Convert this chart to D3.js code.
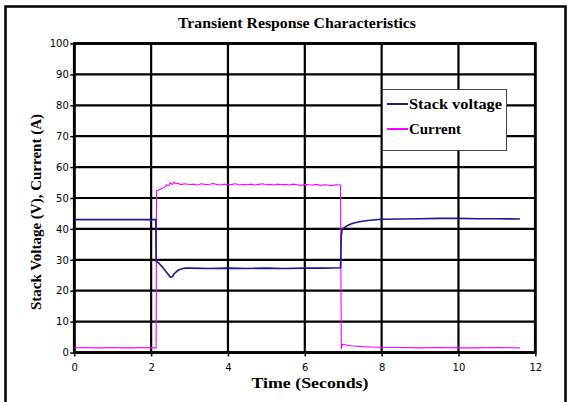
<!DOCTYPE html>
<html>
<head>
<meta charset="utf-8">
<script src="https://cdn.jsdelivr.net/npm/d3@7"></script>
<style>
html,body{margin:0;padding:0;background:#fff;}
svg{display:block;}
</style>
</head>
<body>
<svg id="chart" width="571" height="402"></svg>
<script>
// ---- data ----
const chartTitle = "Transient Response Characteristics";
const xTitle = "Time (Seconds)";
const yTitle = "Stack Voltage (V), Current (A)";
const xTicks = [0, 2, 4, 6, 8, 10, 12];
const yTicks = [0, 10, 20, 30, 40, 50, 60, 70, 80, 90, 100];
const seriesNames = ["Stack voltage", "Current"];

const voltageTime = [0, 2.12, 2.13, 2.2, 2.3, 2.4, 2.5, 2.55, 2.6, 2.7, 2.8, 2.9, 3.0, 3.5, 4.0, 4.5, 5.0, 5.5, 6.0, 6.5, 6.93, 6.95, 6.97, 7.0, 7.1, 7.2, 7.3, 7.5, 7.7, 8.0, 8.5, 9.0, 9.5, 10.0, 10.5, 11.0, 11.6];
const voltageValue = [43.0, 43.0, 29.6, 28.9, 27.6, 26.0, 24.4, 24.5, 25.5, 26.6, 27.1, 27.3, 27.3, 27.2, 27.3, 27.2, 27.3, 27.2, 27.3, 27.3, 27.4, 38.0, 39.6, 40.2, 41.0, 41.6, 42.0, 42.5, 42.8, 43.1, 43.2, 43.3, 43.4, 43.4, 43.3, 43.3, 43.2];

const currentTime = [0, 0.25, 0.5, 0.75, 1.0, 1.25, 1.5, 1.75, 2.0, 2.13, 2.14, 2.2, 2.25, 2.3, 2.35, 2.4, 2.45, 2.5, 2.55, 2.6, 2.65, 2.7, 2.75,
  2.8, 2.9, 3.0, 3.1, 3.2, 3.3, 3.4, 3.5, 3.6, 3.7, 3.8, 3.9, 4.0, 4.1, 4.2, 4.3, 4.4, 4.5, 4.6, 4.7, 4.8, 4.9, 5.0, 5.1, 5.2, 5.3, 5.4, 5.5, 5.6, 5.7, 5.8, 5.9, 6.0, 6.1, 6.2, 6.3, 6.4, 6.5, 6.6, 6.7, 6.8, 6.9, 6.93,
  6.95, 6.98, 7.05, 7.1, 7.2, 7.3, 7.5, 7.7, 7.9, 8.2, 8.5, 9.0, 9.5, 10.0, 10.5, 11.0, 11.6];
const currentValue = [1.5, 1.6, 1.5, 1.5, 1.6, 1.5, 1.5, 1.6, 1.5, 1.5, 52.3, 52.6, 52.9, 53.2, 53.6, 54.3, 54.0, 54.9, 54.4, 55.1, 54.6, 54.8, 54.4,
  54.4, 54.6, 54.3, 54.5, 54.2, 54.6, 54.4, 54.3, 54.7, 54.4, 54.2, 54.5, 54.3, 54.4, 54.6, 54.2, 54.4, 54.3, 54.5, 54.2, 54.4, 54.6, 54.3, 54.4, 54.2, 54.5, 54.3, 54.4, 54.2, 54.5, 54.3, 54.1, 54.4, 54.3, 54.2, 54.4, 54.1, 54.3, 54.2, 54.0, 54.3, 54.2, 54.2,
  1.2, 2.7, 2.5, 2.4, 2.2, 2.1, 1.9, 1.8, 1.7, 1.6, 1.6, 1.5, 1.6, 1.5, 1.5, 1.6, 1.5];

const seriesColors = ["#1a1a8a", "#ff00ff"];

// ---- chart ----
const svg = d3.select("#chart");
const plot = {left: 74.3, right: 535.3, top: 43.5, bottom: 352.5};

const x = d3.scaleLinear().domain([0, 12]).range([plot.left, plot.right]);
const y = d3.scaleLinear().domain([0, 100]).range([plot.bottom, plot.top]);

// outer frame
svg.append("rect").attr("x", 5.5).attr("y", 6.5).attr("width", 560).attr("height", 420)
  .attr("fill", "#fff").attr("stroke", "#000").attr("stroke-width", 2.5);

// title
svg.append("text").attr("x", 297).attr("y", 28).attr("text-anchor", "middle")
  .attr("font-family", "Liberation Serif, Times New Roman, serif").attr("font-weight", "bold")
  .attr("font-size", 14).attr("textLength", 238).attr("lengthAdjust", "spacingAndGlyphs")
  .text(chartTitle);

// gridlines
const grid = svg.append("g");
grid.selectAll("line.h").data(yTicks).join("line").attr("class", "h")
  .attr("x1", plot.left).attr("x2", plot.right)
  .attr("y1", d => y(d)).attr("y2", d => y(d))
  .attr("stroke", "#000").attr("stroke-width", 2.2);
grid.selectAll("line.v").data(xTicks).join("line").attr("class", "v")
  .attr("y1", plot.top).attr("y2", plot.bottom)
  .attr("x1", d => x(d)).attr("x2", d => x(d))
  .attr("stroke", "#000").attr("stroke-width", 2.2);
svg.append("rect").attr("x", plot.left).attr("y", plot.top)
  .attr("width", plot.right - plot.left).attr("height", plot.bottom - plot.top)
  .attr("fill", "none").attr("stroke", "#000").attr("stroke-width", 2.8);

// axes
const yAxis = d3.axisLeft(y).tickValues(yTicks).tickSize(4).tickPadding(1.5);
const gy = svg.append("g").attr("transform", `translate(${plot.left},0)`).call(yAxis);
const xAxis = d3.axisBottom(x).tickValues(xTicks).tickSize(4).tickPadding(7);
const gx = svg.append("g").attr("transform", `translate(0,${plot.bottom})`).call(xAxis);
[gx, gy].forEach(g => {
  g.select(".domain").remove();
  g.selectAll(".tick line").attr("stroke", "#000").attr("stroke-width", 1.5);
  g.selectAll(".tick text").attr("font-family", "DejaVu Sans, Verdana, sans-serif")
    .attr("font-size", 10).attr("fill", "#000");
});

// axis titles
svg.append("text").attr("x", 310).attr("y", 388).attr("text-anchor", "middle")
  .attr("font-family", "Liberation Serif, Times New Roman, serif").attr("font-weight", "bold")
  .attr("font-size", 14).attr("textLength", 117).attr("lengthAdjust", "spacingAndGlyphs")
  .text(xTitle);
svg.append("text").attr("transform", `translate(41,212) rotate(-90)`)
  .attr("text-anchor", "middle")
  .attr("font-family", "Liberation Serif, Times New Roman, serif").attr("font-weight", "bold")
  .attr("font-size", 14).attr("textLength", 196).attr("lengthAdjust", "spacingAndGlyphs")
  .text(yTitle);

// lines
const line = d3.line().x(d => x(d[0])).y(d => y(d[1]));
const voltageData = voltageTime.map((t, i) => [t, voltageValue[i]]);
const currentData = currentTime.map((t, i) => [t, currentValue[i]]);

svg.append("path").datum(currentData).attr("d", line)
  .attr("fill", "none").attr("stroke", seriesColors[1]).attr("stroke-width", 1.1);
svg.append("path").datum(voltageData).attr("d", line)
  .attr("fill", "none").attr("stroke", seriesColors[0]).attr("stroke-width", 1.6);

// legend
const lg = svg.append("g");
lg.append("rect").attr("x", 382.5).attr("y", 89.5).attr("width", 124).attr("height", 61)
  .attr("fill", "#fff").attr("stroke", "#444").attr("stroke-width", 1);
seriesNames.forEach((name, i) => {
  const yy = 104 + i * 25;
  lg.append("line").attr("x1", 387).attr("x2", 408).attr("y1", yy).attr("y2", yy)
    .attr("stroke", seriesColors[i]).attr("stroke-width", 2);
  lg.append("text").attr("x", 409).attr("y", yy + 5)
    .attr("font-family", "Liberation Serif, Times New Roman, serif").attr("font-weight", "bold")
    .attr("font-size", 15)
    .attr("textLength", i === 0 ? 93 : 52).attr("lengthAdjust", "spacingAndGlyphs")
    .text(name);
});
</script>
</body>
</html>
